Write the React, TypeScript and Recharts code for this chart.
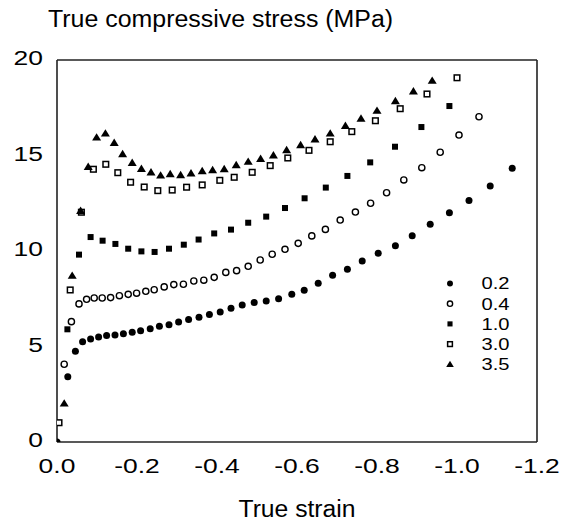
import { ScatterChart, Scatter, XAxis, YAxis, Legend } from 'recharts';

// true strain vs true compressive stress (MPa), one list per strain rate
const rate02: [number, number][] = [
  [0, 0], [-0.027, 3.42], [-0.046, 4.75], [-0.064, 5.25], [-0.084, 5.39], [-0.104, 5.5],
  [-0.124, 5.57], [-0.145, 5.6], [-0.166, 5.67], [-0.188, 5.74], [-0.209, 5.83], [-0.233, 5.93],
  [-0.256, 6.06], [-0.28, 6.14], [-0.304, 6.28], [-0.329, 6.42], [-0.355, 6.53], [-0.381, 6.67],
  [-0.408, 6.81], [-0.435, 7.0], [-0.463, 7.17], [-0.493, 7.31], [-0.523, 7.38], [-0.554, 7.5],
  [-0.587, 7.73], [-0.618, 7.94], [-0.653, 8.31], [-0.689, 8.73], [-0.726, 9.04], [-0.763, 9.48],
  [-0.803, 9.88], [-0.846, 10.28], [-0.888, 10.8], [-0.933, 11.4], [-0.981, 12.0], [-1.03, 12.65],
  [-1.083, 13.4], [-1.138, 14.33],
];

const rate04: [number, number][] = [
  [-0.018, 4.07], [-0.036, 6.3], [-0.055, 7.23], [-0.074, 7.47], [-0.093, 7.54], [-0.113, 7.54],
  [-0.134, 7.56], [-0.156, 7.66], [-0.178, 7.73], [-0.199, 7.79], [-0.222, 7.89], [-0.243, 7.97],
  [-0.268, 8.12], [-0.292, 8.24], [-0.316, 8.26], [-0.342, 8.43], [-0.367, 8.47], [-0.393, 8.62],
  [-0.422, 8.88], [-0.449, 8.97], [-0.478, 9.2], [-0.508, 9.53], [-0.538, 9.83], [-0.57, 10.09],
  [-0.603, 10.4], [-0.637, 10.79], [-0.671, 11.13], [-0.708, 11.62], [-0.746, 12.04], [-0.784, 12.5],
  [-0.824, 13.05], [-0.867, 13.72], [-0.912, 14.36], [-0.958, 15.17], [-1.005, 16.07], [-1.055, 17.03],
];

const rate10: [number, number][] = [
  [-0.026, 5.9], [-0.055, 9.81], [-0.084, 10.73], [-0.114, 10.54], [-0.146, 10.37], [-0.178, 10.12],
  [-0.211, 9.98], [-0.244, 9.95], [-0.28, 10.12], [-0.317, 10.33], [-0.354, 10.6], [-0.393, 10.92],
  [-0.435, 11.12], [-0.478, 11.48], [-0.523, 11.8], [-0.57, 12.25], [-0.619, 12.76], [-0.672, 13.32],
  [-0.726, 13.93], [-0.783, 14.64], [-0.845, 15.46], [-0.911, 16.49], [-0.981, 17.59],
];

const rate30: [number, number][] = [
  [-0.005, 1.01], [-0.033, 7.96], [-0.061, 12.03], [-0.091, 14.28], [-0.122, 14.54], [-0.152, 14.1],
  [-0.184, 13.6], [-0.218, 13.35], [-0.252, 13.16], [-0.288, 13.19], [-0.324, 13.34], [-0.363, 13.46],
  [-0.407, 13.7], [-0.443, 13.86], [-0.488, 14.12], [-0.533, 14.47], [-0.577, 14.87], [-0.63, 15.27],
  [-0.683, 15.72], [-0.737, 16.25], [-0.796, 16.82], [-0.858, 17.45], [-0.925, 18.22], [-1.0, 19.07],
];

const rate35: [number, number][] = [
  [-0.018, 2.02], [-0.038, 8.71], [-0.059, 12.11], [-0.078, 14.41], [-0.099, 15.95], [-0.121, 16.16],
  [-0.143, 15.67], [-0.164, 15.08], [-0.188, 14.62], [-0.211, 14.31], [-0.235, 14.12], [-0.259, 13.96],
  [-0.283, 14.03], [-0.309, 13.98], [-0.335, 14.07], [-0.363, 14.19], [-0.389, 14.24], [-0.418, 14.29],
  [-0.448, 14.5], [-0.478, 14.68], [-0.509, 14.83], [-0.541, 15.01], [-0.574, 15.29], [-0.609, 15.55],
  [-0.645, 15.85], [-0.683, 16.16], [-0.721, 16.56], [-0.76, 16.94], [-0.8, 17.35], [-0.846, 17.85],
  [-0.891, 18.36], [-0.938, 18.92],
];

const xTicks = [0, -0.2, -0.4, -0.6, -0.8, -1.0, -1.2];
const yTicks = [0, 5, 10, 15, 20];

type Kind = 'dot' | 'ring' | 'square' | 'box' | 'triangle';

const SERIES: { name: string; kind: Kind; data: [number, number][] }[] = [
  { name: '0.2', kind: 'dot', data: rate02 },
  { name: '0.4', kind: 'ring', data: rate04 },
  { name: '1.0', kind: 'square', data: rate10 },
  { name: '3.0', kind: 'box', data: rate30 },
  { name: '3.5', kind: 'triangle', data: rate35 },
];

const FONT = '"Liberation Sans", Arial, Helvetica, sans-serif';
const AXIS = '#222';

function drawMarker(kind: Kind, cx: number, cy: number, s = 1) {
  switch (kind) {
    case 'dot':
      return <circle cx={cx} cy={cy} r={3.5 * s} fill="#000" />;
    case 'ring':
      return <circle cx={cx} cy={cy} r={3.1 * s} fill="#fff" stroke="#000" strokeWidth={1.4} />;
    case 'square':
      return <rect x={cx - 3 * s} y={cy - 3 * s} width={6 * s} height={6 * s} fill="#000" />;
    case 'box':
      return (
        <rect x={cx - 2.8 * s} y={cy - 2.8 * s} width={5.6 * s} height={5.6 * s}
          fill="#fff" stroke="#000" strokeWidth={1.5} />
      );
    default:
      return (
        <polygon
          points={`${cx},${cy - 4.2 * s} ${cx + 4.5 * s},${cy + 3.2 * s} ${cx - 4.5 * s},${cy + 3.2 * s}`}
          fill="#000"
        />
      );
  }
}

const shapeFor = (kind: Kind) => (props: any) => {
  const { cx, cy } = props;
  if (cx == null || cy == null) return <g />;
  return drawMarker(kind, cx, cy);
};

const fmtStrain = (v: number) => (v === 0 ? '0.0' : v.toFixed(1));

// the original lettering is a little wider than Arial, so stretch it sideways
function XTick(props: any) {
  const { x, y, payload } = props;
  return (
    <text transform={`translate(${x},${y + 15}) scale(1.26,1)`} textAnchor="middle"
      fontSize={21} fontFamily={FONT} fill="#000">
      {fmtStrain(payload.value)}
    </text>
  );
}

function YTick(props: any) {
  const { x, y, payload } = props;
  return (
    <text transform={`translate(${x},${y + 5}) scale(1.26,1)`} textAnchor="end"
      fontSize={21} fontFamily={FONT} fill="#000">
      {payload.value}
    </text>
  );
}

function LegendBox() {
  return (
    <svg width={110} height={104}>
      {SERIES.map((s, i) => {
        const cy = 10.5 + i * 20.2;
        return (
          <g key={s.name}>
            {drawMarker(s.kind, 7, cy, 0.85)}
            <text transform={`translate(38.5,${cy + 5.8}) scale(1.26,1)`} fontSize={16}
              fontFamily={FONT} fill="#000">
              {s.name}
            </text>
          </g>
        );
      })}
    </svg>
  );
}

export default function App() {
  return (
    <div style={{ position: 'absolute', left: 0, top: 0, width: 571, height: 521, background: '#fff', fontFamily: FONT }}>
      <div style={{ position: 'absolute', left: 48, top: 7, fontSize: 23.5, lineHeight: '24px', color: '#000', whiteSpace: 'nowrap', transform: 'scaleX(1.06)', transformOrigin: 'left top' }}>
        True compressive stress (MPa)
      </div>
      <div style={{ position: 'absolute', left: 0, width: 594, top: 497, fontSize: 23.5, lineHeight: '24px', textAlign: 'center', color: '#000', whiteSpace: 'nowrap', transform: 'scaleX(1.05)', transformOrigin: '297px top' }}>
        True strain
      </div>
      <ScatterChart width={571} height={521} margin={{ top: 60, right: 34, bottom: 39, left: 0 }}>
        <XAxis xAxisId="b" dataKey="x" type="number" domain={[-1.2, 0]} reversed ticks={xTicks}
          tickLine={false} tickSize={14} tickMargin={2} height={40}
          axisLine={{ stroke: AXIS, strokeWidth: 1.6 }} tick={<XTick />} allowDataOverflow />
        <XAxis xAxisId="bt" type="number" domain={[-1.2, 0]} reversed ticks={xTicks} mirror
          tick={false} tickSize={11} tickLine={{ stroke: AXIS, strokeWidth: 1.4 }} axisLine={false} />
        <XAxis xAxisId="t" orientation="top" type="number" domain={[-1.2, 0]} reversed ticks={xTicks} mirror
          tick={false} tickSize={11} tickLine={{ stroke: AXIS, strokeWidth: 1.4 }}
          axisLine={{ stroke: AXIS, strokeWidth: 1.6 }} />
        <YAxis yAxisId="l" dataKey="y" type="number" domain={[0, 20]} ticks={yTicks} width={57}
          tickLine={false} tickSize={12} tickMargin={2} axisLine={{ stroke: AXIS, strokeWidth: 1.6 }}
          tick={<YTick />} allowDataOverflow />
        <YAxis yAxisId="lt" type="number" domain={[0, 20]} ticks={yTicks} mirror tick={false}
          tickSize={12} tickLine={{ stroke: AXIS, strokeWidth: 1.4 }} axisLine={false} />
        <YAxis yAxisId="r" orientation="right" type="number" domain={[0, 20]} ticks={yTicks} mirror
          tick={false} tickSize={12} tickLine={{ stroke: AXIS, strokeWidth: 1.4 }}
          axisLine={{ stroke: AXIS, strokeWidth: 1.6 }} />
        {SERIES.map((s) => (
          <Scatter key={s.name} name={s.name} xAxisId="b" yAxisId="l"
            data={s.data.map(([x, y]) => ({ x, y }))}
            shape={shapeFor(s.kind)} isAnimationActive={false} />
        ))}
        <Legend layout="vertical" align="center" verticalAlign="middle" content={() => <LegendBox />}
          wrapperStyle={{ left: 443, top: 273, width: 110, height: 104 }} />
      </ScatterChart>
    </div>
  );
}
